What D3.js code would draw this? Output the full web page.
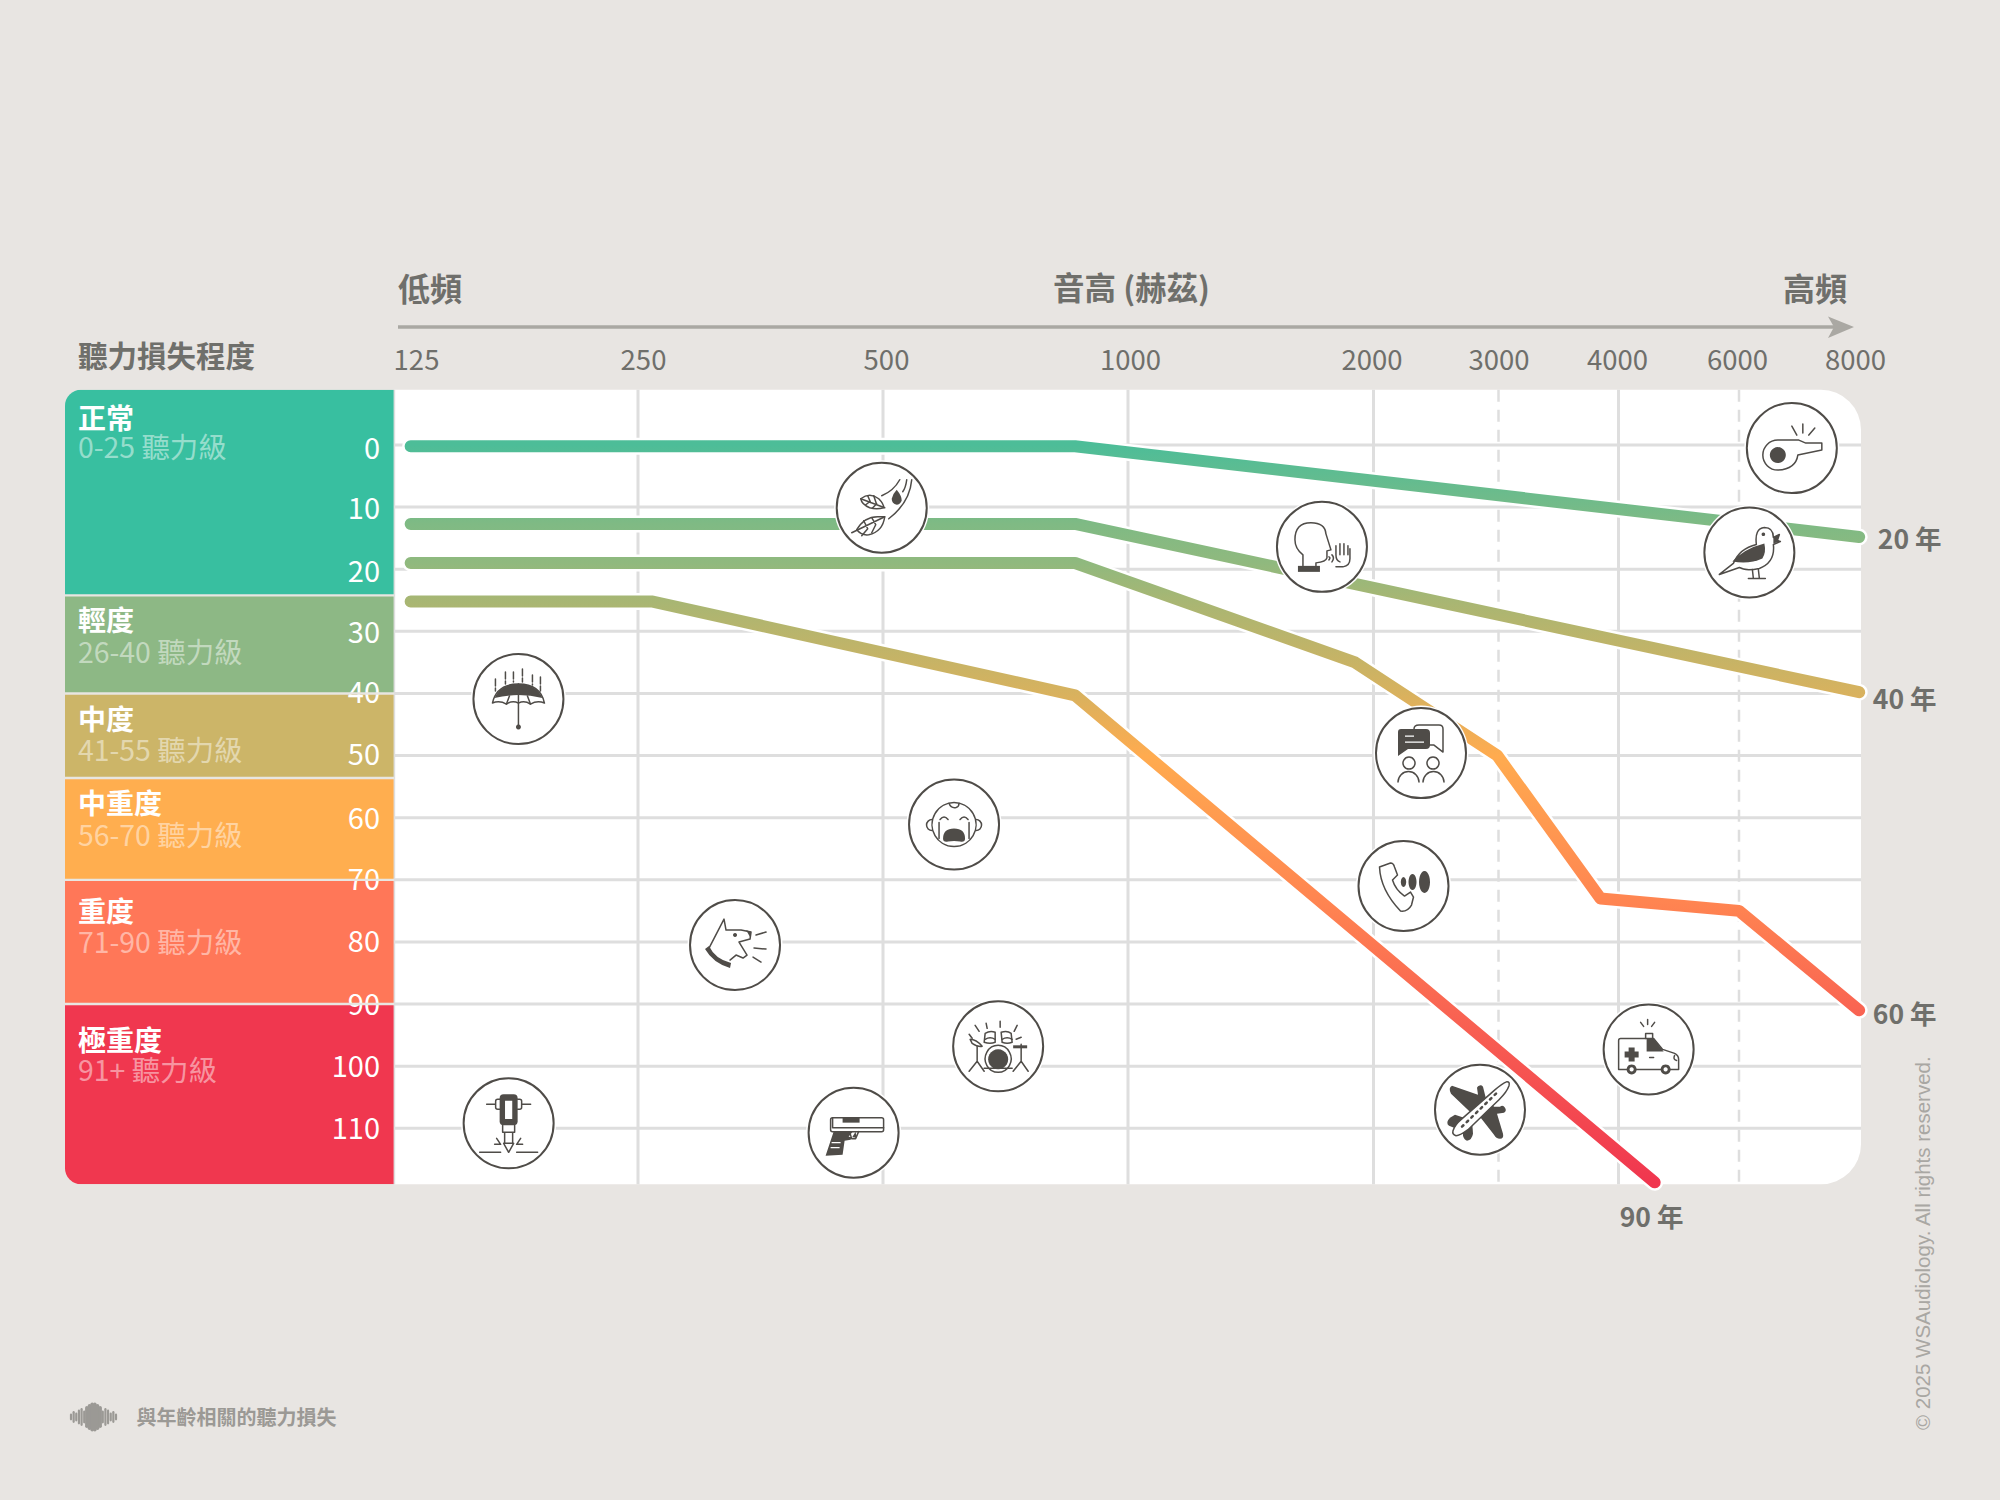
<!DOCTYPE html>
<html lang="zh-Hant">
<head>
<meta charset="utf-8">
<title>與年齡相關的聽力損失</title>
<script src="https://cdn.jsdelivr.net/npm/d3@7"></script>
<style>
  html, body { margin: 0; padding: 0; background: #e8e5e2; }
  svg { display: block; font-family: "Noto Sans CJK TC", "Noto Sans", sans-serif; }
</style>
</head>
<body>
<svg id="chart" width="2000" height="1500"></svg>
<script>
// ---- Data ----------------------------------------------------------------
const freqTicks = [125, 250, 500, 1000, 2000, 3000, 4000, 6000, 8000];
const freqLabelShift = [23, 5, 3, 2, -2, 0, -1.5, -2, -6];
const dashedFreqs = [3000, 6000];
const dbTicks = [0, 10, 20, 30, 40, 50, 60, 70, 80, 90, 100, 110];
const dbLabelShift = [4, 2, 2.5, 2, -0.5, -0.5, 1.5, 0, 0.5, 1, 1, 0.5];

const bandNames = ["正常", "輕度", "中度", "中重度", "重度", "極重度"];
const bandRanges = ["0-25 聽力級", "26-40 聽力級", "41-55 聽力級", "56-70 聽力級", "71-90 聽力級", "91+ 聽力級"];
const bandEdges = [-8.9, 24.2, 40, 53.6, 70, 90, 119];
const bandColors = ["#38bfa0", "#8db885", "#ccb568", "#ffae4f", "#ff7758", "#f0374f"];
const bandNameY = [28.8, 25.7, 26, 26, 32, 37];   // name offset below each band's top edge
const bandSubY = [58.3, 57, 57, 58, 62.7, 67];

const age20Freq = [134, 892, 7970];
const age20Db = [0.2, 0.2, 14.8];
const age40Freq = [134, 892, 7970];
const age40Db = [12.7, 12.7, 39.8];
const age60Freq = [134, 892, 1925, 2990, 3850, 6000, 7970];
const age60Db = [19, 19, 35, 50, 73, 75, 91];
const age90Freq = [134, 265, 892, 4600];
const age90Db = [25.2, 25.2, 40.3, 118.7];

const ageLabels = ["20 年", "40 年", "60 年", "90 年"];
const ageLabelDx = [18.6, 13.6, 13.6, -35];
const ageLabelDy = [3, 7, 4.5, 35];

// Everyday sounds, placed by pitch and loudness.
const soundNames = ["whistle", "bird", "leaves", "talk", "umbrella", "chat", "baby", "phone", "dog", "ambulance", "drums", "plane", "jackhammer", "gun"];
const soundFreq = [6866, 6170, 498.7, 1790, 189, 2380, 645, 2240, 349, 4500, 735, 2852, 184, 470];
const soundDb = [0.5, 17.3, 10.1, 16.4, 40.9, 49.6, 61.1, 71, 80.5, 97.3, 96.8, 107, 109.2, 110.7];

// ---- Scales --------------------------------------------------------------
const x = d3.scaleLinear().domain(freqTicks)
  .range([393, 638, 883, 1128, 1373.5, 1498.5, 1618.5, 1739, 1861]);
const y = d3.scaleLinear().domain([0, 110]).range([445, 1128.3]);

const INK = "#4f4c48", TEXT = "#6f6f6b";
const svg = d3.select("#chart");
const defs = svg.append("defs");

// Stroke colour follows the severity bands from top to bottom.
const ramp = [[445, "#4dbd98"], [524, "#7fba84"], [563, "#90b97e"], [601, "#a8b673"], [690, "#d6b25f"],
              [756, "#ffab4f"], [900, "#ff8551"], [1010, "#f96452"], [1182, "#f0364f"]];
const grad = defs.append("linearGradient").attr("id", "severity")
  .attr("gradientUnits", "userSpaceOnUse")
  .attr("x1", 0).attr("x2", 0).attr("y1", 445).attr("y2", 1182);
grad.selectAll("stop").data(ramp).join("stop")
  .attr("offset", d => (d[0] - 445) / (1182 - 445))
  .attr("stop-color", d => d[1]);

const panelTop = y(bandEdges[0]), panelBottom = y(bandEdges[6]);

// ---- Plot panel and grid ---------------------------------------------------
svg.append("rect").attr("width", 2000).attr("height", 1500).attr("fill", "#e8e5e2");
svg.append("path").attr("fill", "#fff")
  .attr("d", `M394,${panelTop}H1821a40,40 0 0 1 40,40V${panelBottom - 40}a40,40 0 0 1 -40,40H394Z`);

const grid = svg.append("g").attr("stroke", "#dedede");
grid.selectAll("line.h").data(dbTicks).join("line").attr("class", "h")
  .attr("x1", 395).attr("x2", 1861)
  .attr("y1", d => y(d)).attr("y2", d => y(d)).attr("stroke-width", 3);
grid.selectAll("line.v").data(freqTicks.slice(1, -1)).join("line").attr("class", "v")
  .attr("x1", d => x(d)).attr("x2", d => x(d))
  .attr("y1", panelTop).attr("y2", panelBottom)
  .attr("stroke-width", d => dashedFreqs.includes(d) ? 2.5 : 3)
  .attr("stroke-dasharray", d => dashedFreqs.includes(d) ? "12 8" : null);
svg.append("line").attr("x1", 394.4).attr("x2", 394.4).attr("y1", panelTop).attr("y2", panelBottom)
  .attr("stroke", "#dedede").attr("stroke-width", 1.6);

// ---- Severity bands --------------------------------------------------------
defs.append("clipPath").attr("id", "bandClip").append("path")
  .attr("d", `M393.6,${panelTop}H81a16,16 0 0 0 -16,16V${panelBottom - 16}a16,16 0 0 0 16,16H393.6Z`);
const bands = svg.append("g").attr("clip-path", "url(#bandClip)");
bands.selectAll("rect").data(bandColors).join("rect")
  .attr("x", 65).attr("width", 329)
  .attr("y", (d, i) => y(bandEdges[i]))
  .attr("height", (d, i) => y(bandEdges[i + 1]) - y(bandEdges[i]))
  .attr("fill", d => d);

const labels = svg.append("g");
labels.selectAll("text.range").data(bandRanges).join("text").attr("class", "range")
  .attr("x", 78).attr("y", (d, i) => y(bandEdges[i]) + bandSubY[i]).attr("dy", "0.36em")
  .attr("fill", "#fff").attr("fill-opacity", 0.48).attr("font-size", 28.4).text(d => d);
labels.selectAll("text.name").data(bandNames).join("text").attr("class", "name")
  .attr("x", 78).attr("y", (d, i) => y(bandEdges[i]) + bandNameY[i]).attr("dy", "0.36em")
  .attr("fill", "#fff").attr("font-size", 28).attr("font-weight", 700).text(d => d);

// Hearing-level axis, written inside the bands.
const dbAxis = svg.append("g").attr("transform", "translate(380,0)")
  .call(d3.axisLeft(y).tickValues(dbTicks).tickSize(0).tickPadding(0));
dbAxis.select(".domain").remove();
dbAxis.selectAll("text").attr("fill", "#fff").attr("font-size", 29)
  .attr("font-family", "'Noto Sans CJK TC'")
  .attr("transform", (d, i) => `translate(0,${dbLabelShift[i]})`);

// Hairlines between the bands sit over the figures.
svg.append("g").selectAll("line").data(bandEdges.slice(1, -1)).join("line")
  .attr("x1", 65).attr("x2", 394)
  .attr("y1", d => y(d)).attr("y2", d => y(d))
  .attr("stroke", "#e8e6e1").attr("stroke-width", 2.4);

// ---- Headings and pitch axis ------------------------------------------------
const bold = (sel, txt, px, py, size, anchor, col) => sel.append("text")
  .attr("x", px).attr("y", py).attr("dy", "0.36em").attr("text-anchor", anchor || "start")
  .attr("font-size", size).attr("font-weight", 700).attr("fill", col || TEXT).text(txt);

bold(svg, "聽力損失程度", 78, 356, 29.5);
bold(svg, "低頻", 398, 289, 32);
bold(svg, "音高 (赫茲)", 1131.5, 289, 31.5, "middle");
bold(svg, "高頻", 1847, 289, 32, "end");

svg.append("line").attr("x1", 398).attr("x2", 1835).attr("y1", 327).attr("y2", 327)
  .attr("stroke", "#aaa8a3").attr("stroke-width", 3.5);
svg.append("path").attr("d", "M1828,316.5L1854,327L1828,338L1834,327Z").attr("fill", "#aaa8a3");

const freqAxis = svg.append("g").attr("transform", "translate(0,370.2)")
  .call(d3.axisTop(x).tickValues(freqTicks).tickFormat(d3.format("d")).tickSize(0).tickPadding(0));
freqAxis.select(".domain").remove();
freqAxis.selectAll("text").attr("fill", TEXT).attr("font-size", 27.5)
  .attr("font-family", "'Noto Sans CJK TC'")
  .attr("transform", (d, i) => `translate(${freqLabelShift[i]},0)`);

// ---- Age curves -------------------------------------------------------------
const curve = d3.line().x(d => x(d[0])).y(d => y(d[1]));
const ageSeries = [
  d3.zip(age90Freq, age90Db), d3.zip(age60Freq, age60Db),
  d3.zip(age40Freq, age40Db), d3.zip(age20Freq, age20Db)
];
const curves = svg.append("g").attr("fill", "none").attr("stroke-linecap", "round").attr("stroke-linejoin", "round");
ageSeries.forEach(pts => {
  curves.append("path").attr("d", curve(pts)).attr("stroke", "#fff").attr("stroke-width", 17);
  curves.append("path").attr("d", curve(pts)).attr("stroke", "url(#severity)").attr("stroke-width", 12);
});

const ageEnds = [age20Freq, age40Freq, age60Freq, age90Freq].map((f, i) =>
  [f[f.length - 1], [age20Db, age40Db, age60Db, age90Db][i].slice(-1)[0]]);
svg.append("g").selectAll("text").data(ageLabels).join("text")
  .attr("x", (d, i) => x(ageEnds[i][0]) + ageLabelDx[i])
  .attr("y", (d, i) => y(ageEnds[i][1]) + ageLabelDy[i])
  .attr("dy", "0.36em").attr("font-size", 26.5).attr("font-weight", 700).attr("fill", TEXT).text(d => d);

// ---- Sound icons: glyphs are drawn around the centre of a 45px-radius badge --
const glyphs = {
  whistle: [
    ["o", "M-4,-8H7L14,-5H30V2L6,7Q4,21 -14,22A15,15 0 0 1 -14,-8Z"],
    ["s", "M-14,-1a8,8 0 1 0 .01,0Z"],
    ["l", "M0,-22L5,-13M11,-24V-15M23,-20L17,-13"]],
  bird: [
    ["o", "M-30,22L-16,11Q-10,-4 7,-8Q5,-24 15,-25Q24,-25 24,-15L30,-18L28,-12L31,-11L24,-8Q26,10 10,16Q-4,19 -10,15Z"],
    ["s", "M15,-9Q-5,-4 -17,9Q0,12 13,6Q17,0 15,-9Z"],
    ["s", "M14,-20a1.8,1.8 0 1 0 .01,0Z"],
    ["s", "M24,-15L30,-18L28,-12L31,-11L24,-9Z"],
    ["l", "M3,17L4,26M9,17L10,26M-1,26H16"]],
  leaves: [
    ["o", "M-21,-9Q-12,-16 -3,-9Q2,-4 2,0Q-5,2 -12,0Q-20,-3 -21,-9Z"],
    ["l", "M-21,-9L3,0M-14,-12L-11,-5M-8,-12L-5,-3M-16,-3L-12,-6M-9,0L-5,-4"],
    ["o", "M-25,22Q-17,8 -2,9L3,9Q1,24 -13,27Q-20,28 -25,22Z"],
    ["l", "M-30,25L3,9M-18,13L-14,21M-10,10L-6,17M-20,28L-14,21M-10,25L-6,17"],
    ["s", "M15,-18Q20,-12 20,-7Q18,-3 15,-3Q10,-4 10,-9Q11,-14 15,-18Z"],
    ["l", "M0,-12Q12,-17 18,-28M25,-28Q24,-20 21,-16M30,-28Q28,-5 7,11"]],
  talk: [
    ["o", "M-19,19V8Q-27,2 -27,-7Q-27,-24 -11,-24Q3,-24 4,-13L9,3L5,4V11Q4,15 -6,16V19"],
    ["s", "M-24,19H-2V25H-24Z"],
    ["o", "M14,20H21Q28,19 28,12V2M14,8V-1M18,8V-3M22,8V-3M26,8V-1M14,8Q14,14 18,15"],
    ["l", "M10,8Q13,11 10,15M7,10Q9,11 7,13"]],
  umbrella: [
    ["o", "M-26,4Q-22,-15 0,-15Q22,-15 26,4Q19,1 12,5Q6,1 0,4Q-6,1 -12,5Q-19,1 -26,4Z"],
    ["s", "M-24,-1Q-18,-15 0,-15Q18,-15 24,-1Q12,-4 0,-4Q-12,-4 -24,-1Z"],
    ["l", "M0,-15V28M-12,5L-9,-3M12,5L9,-3"],
    ["s", "M0,25.5a2.5,2.5 0 1 0 .01,0Z"],
    ["d", "M-23,-20V-8M-13,-27V-15M-5,-27V-17M4,-30V-17M14,-24V-14M22,-22V-8"]],
  chat: [
    ["o", "M-7,-24Q-7,-28 -2,-28H18Q22,-28 22,-24V-1L13,-8H5"],
    ["s", "M-20,-24H5Q9,-24 9,-20V-8Q9,-4 5,-4H-13L-23,3V-21Q-23,-24 -20,-24Z"],
    ["w", "M-16,-17H-7M-16,-11H3"],
    ["o", "M-12,4a6,6 0 1 0 .01,0ZM12,4a6,6 0 1 0 .01,0Z"],
    ["o", "M-23,29A10.5,10.5 0 0 1 -2,29M2,29A10.5,10.5 0 0 1 23,29"]],
  baby: [
    ["o", "M0,-22A22,22 0 1 0 .01,-22Z"],
    ["o", "M-22,-5a5.5,5.5 0 0 0 0,11M22,-5a5.5,5.5 0 0 1 0,11"],
    ["s", "M-11,14Q-11,4 0,4Q11,4 11,14Q11,18 6,17Q0,16 -6,17Q-11,18 -11,14Z"],
    ["l", "M-14,-5Q-10,-10 -6,-5M6,-5Q10,-10 14,-5M-15,-2V14M15,-2V14M-5,-21Q-3,-16 2,-17Q5,-18 5,-21"]],
  phone: [
    ["o", "M-24,-19L-13,-23Q-10,-23 -9,-19L-6,-11L-11,-6Q-8,4 1,10L7,6L10,11L8,19Q4,26 -3,25Q-23,4 -24,-19Z"],
    ["s", "M0,-9a2.7,5 0 1 0 .01,0Z"],
    ["s", "M9,-12a4,8 0 1 0 .01,0Z"],
    ["s", "M21,-15a5.5,11 0 1 0 .01,0Z"]],
  dog: [
    ["o", "M-26,3L-11,-26L-9,-15L6,-15L16,-13L15,-6L4,-3L12,10L8,13L1,10L-5,15"],
    ["s", "M-30,4L-26,1Q-20,14 -4,18L-5,23Q-22,18 -30,4Z"],
    ["s", "M0,-12a2,2 0 1 0 .01,0Z"],
    ["s", "M11,-15L16,-13L15,-8Z"],
    ["l", "M21,-10L31,-13M19,3L31,4M18,12L26,17"]],
  ambulance: [
    ["o", "M-30,-9Q-30,-11 -28,-11H5L14,0L26,4Q30,6 30,10V20H-30Z"],
    ["s", "M-2,-11H5L15,2H-2Z"],
    ["o", "M-3,-11V-16H4V-11"],
    ["s", "M-20,-2H-14V2H-10V8H-14V12H-20V8H-24V2H-20Z"],
    ["l", "M1,8H5M-8,-27L-5,-23M-1,-30V-25M6,-27L3,-23M26,6Q24,10 28,11"],
    ["s", "M-17,15a5,5 0 1 0 .01,0ZM17,15a5,5 0 1 0 .01,0Z"],
    ["w", "M-17,18.5a1.5,1.5 0 1 0 .01,0ZM17,18.5a1.5,1.5 0 1 0 .01,0Z"]],
  drums: [
    ["s", "M0,3A10,10 0 1 0 .01,3Z"],
    ["o", "M0,-1A13,13.5 0 1 0 .01,-1Z"],
    ["o", "M-13,-13Q-8,-16 -3,-14L-3,-4Q-8,-2 -14,-4ZM3,-14Q9,-16 13,-13L14,-4Q9,-2 4,-4Z"],
    ["o", "M-13,-7Q-8,-10 -3,-7M4,-7Q9,-10 14,-7"],
    ["o", "M-28,-7Q-22,-7 -16,0Q-20,1 -26,-3Z"],
    ["s", "M15,-1H29V2H15Z"],
    ["l", "M-21,0V15M-21,15L-29,25M-21,15L-14,25M23,-2V15M23,15L15,25M23,15L30,25M-14,22H14"],
    ["l", "M-23,-21L-19,-15M-12,-23L-11,-18M2,-25V-19M19,-21L16,-15M23,-9L18,-7M-29,-12L-26,-8"]],
  plane: [
    ["s", "M-28,-24L-2,-15L-3,-22A3.5,3.5 0 0 1 3,-23L6,-11L-8,4L-29,-16Q-32,-22 -28,-24Z"],
    ["s", "M8,-10L14,-3L20,-3A3.5,3.5 0 0 1 24,3L17,4L23,24Q24,29 20,29Q16,29 14,25L-4,2Z"],
    ["s", "M-30,8Q-35,13 -31,16L-21,20L-10,10L-25,5Z"],
    ["s", "M-17,18L-8,10L-7,24Q-8,30 -13,31Q-16,30 -17,26Z"],
    ["o", "M-27,21Q-25,15 -19,10L14,-19Q22,-26 27,-28Q30,-28 29,-24Q27,-18 19,-10L-12,20Q-20,26 -24,26Q-28,25 -27,21Z", "#fff"],
    ["d2", "M-18,17L17,-17"]],
  jackhammer: [
    ["s", "M-9,-25Q-9,-29 -5,-29H5Q9,-29 9,-25V-2Q9,2 5,2H-5Q-9,2 -9,-2Z"],
    ["w", "M-3,-22H3V-5H-3Z"],
    ["o", "M-22,-19H-13M13,-19H22M-9,-24H-11Q-13,-24 -13,-22V-16Q-13,-14 -11,-14H-9M9,-24H11Q13,-24 13,-22V-16Q13,-14 11,-14H9"],
    ["o", "M-6,2V9H6V2M-4,9V20M4,9V20M-5,20L0,29L5,20Z"],
    ["l", "M-29,29H-8M8,29H29M-14,21H-9M9,21H14M-12,15L-8,21M12,15L8,21"]],
  gun: [
    ["o", "M-21,-15H28Q30,-15 30,-13V-3Q30,-1 28,-1H-21Q-23,-1 -23,-3V-13Q-23,-15 -21,-15Z"],
    ["l", "M-21,-15V-5H30"],
    ["s", "M-11,-15H6V-10H-11Z"],
    ["s", "M-20,-1H-1L-5,4L3,5L2,-1L-3,7L-9,8L-11,22L-28,23Z"],
    ["o", "M-4,-1L-2,6H2L5,-1"],
    ["w", "M-22,10H-13M-23,15H-14"]]
};

const icons = svg.append("g").selectAll("g").data(soundNames).join("g")
  .attr("transform", (d, i) => `translate(${x(soundFreq[i])},${y(soundDb[i])})`);
icons.append("circle").attr("r", 47.5).attr("fill", "#fff");
icons.append("circle").attr("r", 45).attr("fill", "#fff").attr("stroke", INK).attr("stroke-width", 2);
icons.each(function (name) {
  const g = d3.select(this);
  glyphs[name].forEach(([kind, d, fill]) => {
    const p = g.append("path").attr("d", d);
    if (kind === "s") p.attr("fill", INK);
    else if (kind === "w") p.attr("fill", "#fff").attr("stroke", "#fff").attr("stroke-width", 1.2);
    else {
      p.attr("fill", fill || "none").attr("stroke", INK).attr("stroke-width", 1.5)
       .attr("stroke-linecap", "round").attr("stroke-linejoin", "round");
      if (kind === "d") p.attr("stroke-dasharray", "7 2");
      if (kind === "d2") p.attr("stroke-width", 2.5).attr("stroke-dasharray", "2 4.5");
    }
  });
});

// ---- Footer -----------------------------------------------------------------
const waveHeights = [7, 12, 9, 15, 18, 13, 21, 25, 28, 28, 25, 21, 13, 18, 15, 9, 12, 7];
const waveX = d3.scalePoint().domain(d3.range(waveHeights.length)).range([71, 116]);
svg.append("g").selectAll("line").data(waveHeights).join("line")
  .attr("x1", (d, i) => waveX(i)).attr("x2", (d, i) => waveX(i))
  .attr("y1", d => 1417 - d / 2 + 1.2).attr("y2", d => 1417 + d / 2 - 1.2)
  .attr("stroke", "#9b9995").attr("stroke-width", d => d >= 20 ? 3.6 : 2.2).attr("stroke-linecap", "round");
bold(svg, "與年齡相關的聽力損失", 136.5, 1417.5, 20, "start", "#9b9995");

svg.append("text").attr("transform", "translate(1930,1430) rotate(-90)")
  .attr("font-family", "'Liberation Sans', Arial, sans-serif").attr("font-size", 20.5)
  .attr("fill", "#a9a7a3").text("© 2025 WSAudiology. All rights reserved.");
</script>
</body>
</html>
